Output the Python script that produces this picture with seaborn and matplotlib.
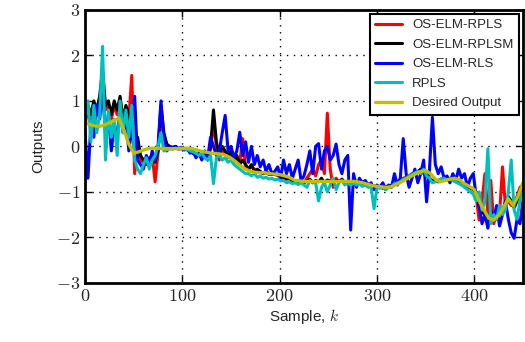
import matplotlib
matplotlib.use('Agg')
import matplotlib.pyplot as plt
import numpy as np
import pandas as pd
import seaborn as sns

# sample index for the model outputs (every 3rd sample)
SAMPLES = list(range(0, 451, 3))
# desired output, read every 5 samples
DESIRED_SAMPLES = list(range(0, 451, 5))

desired_output = [
    0.52, 0.48, 0.45, 0.44, 0.47, 0.52, 0.57, 0.62, 0.35, 0.05,
    -0.15, -0.12, -0.08, -0.05, -0.04, -0.04, -0.05, -0.05, -0.05, -0.05,
    -0.04, -0.04, -0.05, -0.08, -0.11, -0.13, -0.15, -0.16, -0.17, -0.20,
    -0.26, -0.34, -0.43, -0.50, -0.55, -0.57, -0.58, -0.58, -0.60, -0.61,
    -0.62, -0.65, -0.68, -0.74, -0.76, -0.77, -0.77, -0.77, -0.77, -0.77,
    -0.77, -0.77, -0.77, -0.77, -0.77, -0.77, -0.78, -0.80, -0.83, -0.86,
    -0.88, -0.89, -0.90, -0.89, -0.84, -0.78, -0.72, -0.66, -0.60, -0.55,
    -0.53, -0.60, -0.72, -0.78, -0.75, -0.72, -0.70, -0.74, -0.82, -0.88,
    -0.95, -1.20, -1.40, -1.58, -1.62, -1.52, -1.35, -1.15, -1.30, -1.10,
    -0.80,
]

os_elm_rpls = [
    0.5, 0.8, 0.6, 0.9, 0.7, 1.0, 1.4, 0.8, 0.9, 0.6,
    0.9, 0.7, 1.0, 0.5, 0.8, 0.6, 1.56, -0.6, 0.1, -0.3,
    -0.35, -0.3, -0.25, -0.2, -0.78, -0.15, 0.7, 0.2, 0.0, -0.05,
    -0.05, -0.02, -0.06, -0.05, -0.05, -0.08, -0.12, -0.15, -0.2, -0.2,
    -0.25, -0.22, -0.3, -0.05, 0.5, 0.0, -0.3, -0.05, -0.15, -0.25,
    -0.15, -0.35, -0.25, -0.35, 0.17, -0.45, -0.5, -0.45, -0.5, -0.55,
    -0.55, -0.6, -0.58, -0.62, -0.6, -0.62, -0.64, -0.68, -0.72, -0.7,
    -0.72, -0.76, -0.78, -0.76, -0.78, -0.8, -0.7, -0.6, -0.5, -0.65,
    -0.4, -0.3, -0.6, 0.73, -0.5, -0.9, -0.7, -0.78, -0.75, -0.8,
    -0.78, -0.8, -0.78, -0.8, -0.82, -0.85, -0.84, -0.86, -0.88, -0.88,
    -0.9, -0.9, -0.9, -0.88, -0.88, -0.85, -0.8, -0.78, -0.75, -0.7,
    -0.68, -0.65, -0.6, -0.58, -0.55, -0.52, -0.6, -0.65, -0.7, -0.75,
    -0.75, -0.75, -0.72, -0.72, -0.72, -0.72, -0.75, -0.78, -0.8, -0.82,
    -0.85, -0.9, -0.92, -0.95, -1.1, -1.62, -1.2, -0.6, -1.5, -0.75,
    -1.7, -1.5, -1.5, -0.45, -1.3, -1.2, -1.3, -1.3, -1.1, -0.9,
    -0.85,
]

os_elm_rplsm = [
    0.6, 0.9, 0.7, 1.0, 0.8, 1.1, 1.7, 0.9, 1.0, 0.7,
    1.0, 0.8, 1.1, 0.6, 0.9, 0.7, 0.3, 0.0, 0.2, -0.2,
    -0.3, -0.4, -0.3, -0.2, -0.35, -0.1, 0.9, 0.3, 0.05, 0.0,
    -0.02, 0.0, -0.05, -0.03, -0.05, -0.06, -0.1, -0.15, -0.2, -0.18,
    -0.25, -0.2, -0.3, 0.0, 0.8, 0.1, -0.2, 0.0, -0.1, -0.2,
    -0.1, -0.3, -0.2, -0.4, -0.3, -0.4, -0.5, -0.4, -0.55, -0.5,
    -0.55, -0.6, -0.55, -0.6, -0.62, -0.6, -0.62, -0.65, -0.68, -0.72,
    -0.7, -0.75, -0.76, -0.78, -0.74, -0.8, -0.76, -0.72, -0.8, -0.75,
    -0.78, -0.7, -0.8, -0.74, -0.76, -0.82, -0.75, -0.78, -0.72, -0.8,
    -0.77, -0.8, -0.76, -0.82, -0.8, -0.84, -0.86, -0.83, -0.9, -0.87,
    -0.9, -0.88, -0.92, -0.89, -0.9, -0.86, -0.82, -0.8, -0.74, -0.72,
    -0.7, -0.66, -0.62, -0.6, -0.56, -0.5, -0.55, -0.6, -0.72, -0.76,
    -0.74, -0.78, -0.72, -0.74, -0.7, -0.72, -0.7, -0.76, -0.74, -0.8,
    -0.84, -0.88, -0.9, -0.95, -1.0, -1.3, -1.45, -1.5, -1.55, -1.6,
    -1.55, -1.6, -1.45, -1.4, -1.25, -1.1, -1.2, -1.35, -1.2, -1.0,
    -0.95,
]

os_elm_rls = [
    0.3, -0.7, 0.5, 0.2, 0.9, 0.6, 1.2, 0.3, 0.7, -0.1,
    0.5, 0.2, 0.8, 0.3, 0.6, -0.1, 0.4, 1.1, -0.3, -0.4,
    -0.5, -0.2, -0.45, -0.1, -0.3, 0.0, 1.0, 0.2, -0.1, 0.0,
    -0.05, 0.0, -0.05, -0.02, -0.08, -0.05, -0.15, -0.1, -0.25, -0.15,
    -0.3, -0.1, -0.25, 0.2, 0.0, -0.2, -0.1, 0.3, 0.68, -0.1,
    0.0, -0.25, -0.1, 0.31, -0.2, 0.1, -0.35, 0.0, -0.4, -0.2,
    -0.45, -0.3, -0.55, -0.4, -0.6, -0.55, -0.45, -0.7, -0.3, -0.6,
    -0.4, -0.7, -0.5, -0.3, -0.75, -0.65, -0.4, -0.1, -0.6, 0.0,
    0.06, -0.5, -0.1, 0.0, -0.3, -0.2, 0.05, -0.4, -0.6, -0.3,
    -0.2, -1.84, -0.6, -0.9, -0.7, -0.8, -0.75, -0.85, -0.8, -0.95,
    -0.85, -0.9, -0.8, -0.95, -0.85, -0.9, -0.6, -0.85, -0.7, 0.17,
    -0.6, -0.9, -0.7, -0.5, -0.8, -0.6, -0.3, -1.22, -0.5, 0.64,
    -0.4, -0.6, -0.45, -0.7, -0.65, -0.8, -0.6, -0.75, -0.5, -0.7,
    -0.6, -0.9, -0.7, -0.6, -1.1, -1.3, -1.7, -1.5, -1.8, -1.4,
    -1.6, -1.3, -1.75, -1.5, -1.2, -1.6, -1.9, -2.02, -1.6, -1.7,
    -1.2,
]

rpls = [
    0.6, 1.0, 0.1, 0.9, 0.3, 0.7, 2.2, -0.3, 0.8, 0.2,
    0.6, -0.2, 1.0, 0.3, 0.8, 0.2, 0.9, -0.3, -0.5, -0.6,
    -0.4, -0.25, -0.5, -0.3, -0.2, 0.0, 0.3, -0.1, -0.08, -0.05,
    -0.06, -0.04, -0.06, -0.05, -0.06, -0.07, -0.1, -0.12, -0.15, -0.2,
    -0.15, -0.25, -0.3, -0.2, -0.82, -0.25, -0.2, -0.3, -0.25, -0.35,
    -0.3, -0.4, -0.45, -0.5, -0.55, -0.6, -0.6, -0.65, -0.6, -0.68,
    -0.65, -0.7, -0.68, -0.72, -0.7, -0.74, -0.72, -0.76, -0.75, -0.8,
    -0.78, -0.82, -0.8, -0.84, -0.8, -0.85, -0.9, -0.75, -0.8, -0.8,
    -1.2, -0.9, -0.8, -1.0, -0.85, -0.7, -0.95, -0.8, -0.75, -0.85,
    -0.8, -0.85, -0.8, -0.85, -0.82, -0.88, -0.85, -0.9, -0.88, -1.37,
    -0.9, -0.92, -0.9, -0.95, -0.9, -0.88, -0.82, -0.8, -0.78, -0.72,
    -0.7, -0.65, -0.62, -0.58, -0.55, -0.6, -0.5, -0.65, -0.7, -0.8,
    -0.78, -0.75, -0.72, -0.7, -0.74, -0.72, -0.75, -0.78, -0.82, -0.85,
    -0.9, -0.95, -1.0, -1.05, -1.2, -1.0, -1.4, -1.2, -0.05, -1.7,
    -1.5, -1.6, -1.3, -1.5, -1.4, -1.0, -0.3, -1.4, -1.6, -1.2,
    -1.0,
]

sns.set_style('ticks')
plt.rcParams['font.family'] = ['Liberation Sans', 'DejaVu Sans']
plt.rcParams['mathtext.fontset'] = 'cm'
plt.rcParams['axes.formatter.use_mathtext'] = True

fig = plt.figure(figsize=(5.25, 3.42), dpi=100)
ax = fig.add_axes([0.162, 0.173, 0.834, 0.798])

series = [
    (os_elm_rpls, '#ff0000', 'OS-ELM-RPLS'),
    (os_elm_rplsm, '#000000', 'OS-ELM-RPLSM'),
    (os_elm_rls, '#0000ff', 'OS-ELM-RLS'),
    (rpls, '#00bfbf', 'RPLS'),
]
for vals, col, name in series:
    sns.lineplot(x=SAMPLES, y=vals, color=col, label=name, linewidth=2.2, ax=ax)
sns.lineplot(x=DESIRED_SAMPLES, y=desired_output, color='#bfbf00',
             label='Desired Output', linewidth=2.4, ax=ax)

ax.set_xlim(0, 450)
ax.set_ylim(-3, 3)
ax.set_xticks([0, 100, 200, 300, 400])
ax.set_yticks([-3, -2, -1, 0, 1, 2, 3])
ax.set_xticklabels(['$0$', '$100$', '$200$', '$300$', '$400$'], fontsize=13)
ax.set_yticklabels(['$-3$', '$-2$', '$-1$', '$0$', '$1$', '$2$', '$3$'], fontsize=13)
ax.tick_params(direction='in', top=True, right=True, length=5, width=1, color='black')
ax.grid(True, linestyle=(0, (1, 4)), color='black', linewidth=1)
for sp in ax.spines.values():
    sp.set_linewidth(2)
    sp.set_color('black')

ax.set_xlabel('Sample, $k$', fontsize=11, labelpad=2)
ax.set_ylabel('Outputs', fontsize=11, labelpad=8)

leg = ax.legend(loc='upper right', fontsize=9.5, frameon=True, fancybox=False,
                framealpha=1, edgecolor='black', handlelength=2.0,
                borderaxespad=0.3, labelspacing=0.55, borderpad=0.4)
leg.get_frame().set_linewidth(1.5)

fig.savefig('out.png', dpi=100)
